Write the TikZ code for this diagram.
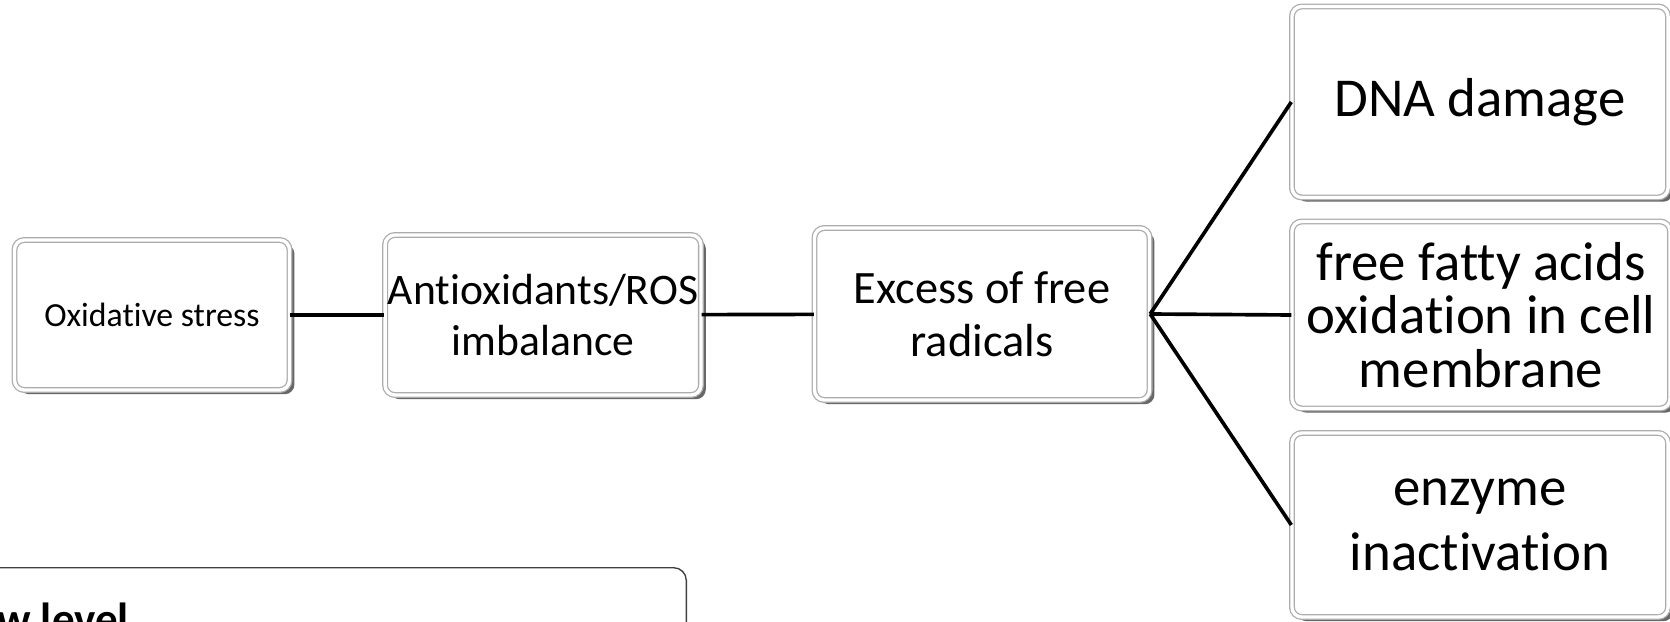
\documentclass[tikz,border=0pt]{standalone}
\usepackage{fontspec}
\setmainfont{Carlito}[Ligatures=NoCommon]
\usetikzlibrary{positioning,shadows}

\tikzset{
  bevel/.style={rectangle, rounded corners=7pt, draw=gray!65, line width=0.9pt,
    double=white, double distance=2.4pt, fill=white, align=center, inner sep=2pt,
    drop shadow={shadow xshift=3.5pt, shadow yshift=-3pt, fill=black!85, opacity=0.7}},
  link/.style={line width=2.6pt, black},
  panel/.style={rectangle, rounded corners=9pt, draw=black!75, line width=1pt}
}

\begin{document}
\begin{tikzpicture}[x=0.025cm, y=-0.025cm]
    \useasboundingbox (0,0) rectangle (1670,622);

    % chain of causes
    \node[bevel, minimum width=6.875cm, minimum height=3.75cm, font=\fontsize{24}{29}\selectfont] (stress) at (152,315) {Oxidative stress};
    \node[bevel, minimum width=7.5cm, minimum height=4cm, font=\fontsize{31}{36}\selectfont] (imbal) at (543,315) {Antioxidants/ROS\\imbalance};
    \node[bevel, minimum width=8.375cm, minimum height=4.3cm, font=\fontsize{33}{38}\selectfont] (excess) at (982,314) {Excess of free\\radicals};

    % consequences
    \node[bevel, minimum width=9.4cm, minimum height=4.775cm, font=\fontsize{39}{46}\selectfont] (dna) at (1480,102) {DNA damage};
    \node[bevel, minimum width=9.45cm, minimum height=4.675cm, font=\fontsize{39}{38}\selectfont] (lipid) at (1481,315) {free fatty acids\\oxidation in cell\\membrane};
    \node[bevel, minimum width=9.4cm, minimum height=4.6cm, font=\fontsize{39}{46}\selectfont] (enzyme) at (1480,525) {enzyme\\inactivation};

    \draw[link] (stress) -- (imbal);
    \draw[link] (imbal) -- (excess);
    \draw[link] (excess.east) -- (dna.west);
    \draw[link] (excess.east) -- (lipid.west);
    \draw[link] (excess.east) -- (enzyme.west);

    % cut-off panel
    \node[panel, minimum width=18cm, minimum height=3.5cm, anchor=north east] (legend) at (687,567) {};
    \node[font=\bfseries\fontsize{32}{36}\selectfont, anchor=base west, inner sep=0pt] (lowtxt) at (-3,634) {w level};
\end{tikzpicture}
\end{document}
